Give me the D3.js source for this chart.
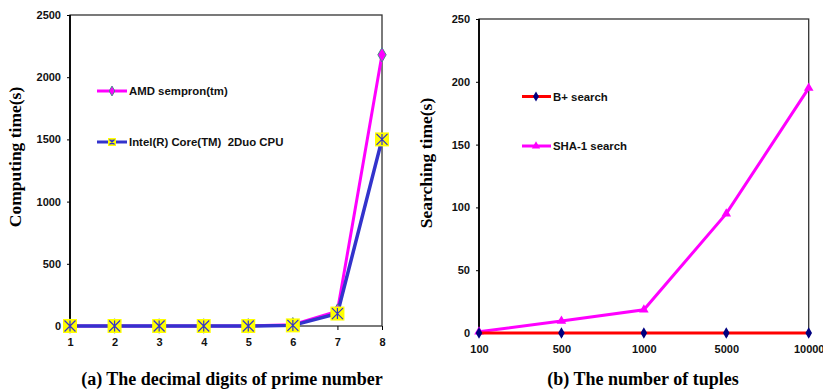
<!DOCTYPE html>
<html>
<head>
<meta charset="utf-8">
<script src="https://cdn.jsdelivr.net/npm/d3@7"></script>
<style>
  body { margin: 0; background: #fff; }
  svg { display: block; }
</style>
</head>
<body>
<svg id="chart" width="823" height="389"></svg>
<script>
// Panel (a): computing time by decimal digits of the prime
const digits = [1, 2, 3, 4, 5, 6, 7, 8];
const amdTime = [0, 0, 0, 0, 1, 10, 120, 2180];
const intelTime = [0, 0, 0, 0, 0, 5, 100, 1500];
const timeTicks = [0, 500, 1000, 1500, 2000, 2500];

// Panel (b): searching time by number of tuples
const tuples = ["100", "500", "1000", "5000", "10000"];
const bplusTime = [0, 0, 0, 0, 0];
const shaTime = [1, 9.5, 18.5, 95, 195];
const searchTicks = [0, 50, 100, 150, 200, 250];

const svg = d3.select("#chart");
const tickFont = "Arial, 'Liberation Sans', sans-serif";
const titleFont = "'Times New Roman', 'Liberation Serif', serif";

function frame(g, x0, x1, y0, y1) {
  g.append("rect").attr("x", x0).attr("y", y0)
    .attr("width", x1 - x0).attr("height", y1 - y0)
    .attr("fill", "none").attr("stroke", "#333").attr("stroke-width", 1.3);
  g.append("line").attr("x1", x0).attr("x2", x0).attr("y1", y0).attr("y2", y1)
    .attr("stroke", "#000").attr("stroke-width", 1.8);
}

function styleAxis(sel) {
  sel.selectAll("path").remove();
  sel.selectAll("line").attr("stroke", "#000").attr("stroke-width", 1);
  sel.selectAll("text").attr("font-family", tickFont).attr("font-weight", "bold")
    .attr("font-size", 11).attr("fill", "#111");
}

// ---------- Panel (a) ----------
{
  const L = 70, R = 382, T = 15, B = 326;
  const x = d3.scalePoint().domain(digits).range([L, R]);
  const y = d3.scaleLinear().domain([0, 2500]).range([B, T]);
  const g = svg.append("g");

  frame(g, L, R, T, B);

  g.append("g").attr("transform", `translate(0,${B})`)
    .call(d3.axisBottom(x).tickSize(4).tickPadding(8))
    .call(styleAxis);
  g.append("g").attr("transform", `translate(${L},0)`)
    .call(d3.axisLeft(y).tickValues(timeTicks).tickFormat(d3.format("d")).tickSize(3).tickPadding(6))
    .call(styleAxis);

  const line = d3.line().x((d, i) => x(digits[i])).y(d => y(d));

  g.append("path").datum(amdTime).attr("d", line)
    .attr("fill", "none").attr("stroke", "#ff00ff").attr("stroke-width", 3);
  g.append("path").datum(intelTime).attr("d", line)
    .attr("fill", "none").attr("stroke", "#3333cc").attr("stroke-width", 3.5);

  // diamond markers
  const diamond = d3.symbol().type(d3.symbolDiamond).size(60);
  g.selectAll(".amd").data(amdTime).join("path")
    .attr("transform", (d, i) => `translate(${x(digits[i])},${y(d)})`)
    .attr("d", diamond).attr("fill", "#ff00ff").attr("stroke", "#4a8a8a").attr("stroke-width", 1);

  // star markers on yellow squares
  function star(sel, s) {
    sel.append("rect").attr("x", -s / 2).attr("y", -s / 2).attr("width", s).attr("height", s)
      .attr("fill", "#ffff00");
    const h = s / 2 - 1.5;
    sel.append("path").attr("d", `M${-h},${-h}L${h},${h}M${-h},${h}L${h},${-h}M0,${-h}L0,${h}`)
      .attr("stroke", "#3333cc").attr("stroke-width", 1.2).attr("fill", "none");
  }
  intelTime.forEach((d, i) => {
    g.append("g").attr("transform", `translate(${x(digits[i])},${y(d)})`).call(star, 14);
  });

  // legend
  const legend = [
    { label: "AMD sempron(tm)", y: 91, color: "#ff00ff", mark: "diamond" },
    { label: "Intel(R) Core(TM)  2Duo CPU", y: 142, color: "#3333cc", mark: "star" }
  ];
  legend.forEach(l => {
    g.append("line").attr("x1", 97).attr("x2", 127).attr("y1", l.y).attr("y2", l.y)
      .attr("stroke", l.color).attr("stroke-width", 3);
    const m = g.append("g").attr("transform", `translate(112,${l.y})`);
    if (l.mark === "diamond") {
      m.append("path").attr("d", d3.symbol().type(d3.symbolDiamond).size(28))
        .attr("fill", "#ff00ff").attr("stroke", "#4a8a8a").attr("stroke-width", 1);
    } else {
      star(m, 8);
    }
    g.append("text").attr("x", 129).attr("y", l.y + 4)
      .attr("font-family", tickFont).attr("font-weight", "bold").attr("font-size", 11.4)
      .attr("fill", "#111").style("white-space", "pre").text(l.label);
  });

  g.append("text").attr("transform", `translate(21,157) rotate(-90)`)
    .attr("text-anchor", "middle").attr("font-family", titleFont).attr("font-weight", "bold")
    .attr("font-size", 17.5).attr("fill", "#000").text("Computing time(s)");
  g.append("text").attr("x", 232).attr("y", 385).attr("text-anchor", "middle")
    .attr("font-family", titleFont).attr("font-weight", "bold").attr("font-size", 18)
    .attr("fill", "#000").text("(a) The decimal digits of prime number");
}

// ---------- Panel (b) ----------
{
  const L = 479, R = 808.7, T = 19, B = 333;
  const x = d3.scalePoint().domain(tuples).range([L, R]);
  const y = d3.scaleLinear().domain([0, 250]).range([B, T]);
  const g = svg.append("g");

  frame(g, L, R, T, B);

  g.append("g").attr("transform", `translate(0,${B})`)
    .call(d3.axisBottom(x).tickSize(4).tickPadding(8))
    .call(styleAxis);
  g.append("g").attr("transform", `translate(${L},0)`)
    .call(d3.axisLeft(y).tickValues(searchTicks).tickSize(3).tickPadding(6))
    .call(styleAxis);

  const line = d3.line().x((d, i) => x(tuples[i])).y(d => y(d));

  g.append("path").datum(shaTime).attr("d", line)
    .attr("fill", "none").attr("stroke", "#ff00ff").attr("stroke-width", 3);
  g.selectAll(".sha").data(shaTime).join("path")
    .attr("transform", (d, i) => `translate(${x(tuples[i])},${y(d)})`)
    .attr("d", d3.symbol().type(d3.symbolTriangle).size(40)).attr("fill", "#ff00ff");

  g.append("path").datum(bplusTime).attr("d", line)
    .attr("fill", "none").attr("stroke", "#ff0000").attr("stroke-width", 3);
  g.selectAll(".bp").data(bplusTime).join("path")
    .attr("transform", (d, i) => `translate(${x(tuples[i])},${y(d)})`)
    .attr("d", d3.symbol().type(d3.symbolDiamond).size(38)).attr("fill", "#000080");

  const legend = [
    { label: "B+ search", y: 96.5, color: "#ff0000", mark: "diamond" },
    { label: "SHA-1 search", y: 146, color: "#ff00ff", mark: "triangle" }
  ];
  legend.forEach(l => {
    g.append("line").attr("x1", 522).attr("x2", 551).attr("y1", l.y).attr("y2", l.y)
      .attr("stroke", l.color).attr("stroke-width", 3);
    g.append("path").attr("transform", `translate(536,${l.y})`)
      .attr("d", d3.symbol().type(l.mark === "diamond" ? d3.symbolDiamond : d3.symbolTriangle).size(30))
      .attr("fill", l.mark === "diamond" ? "#000080" : "#ff00ff");
    g.append("text").attr("x", 553).attr("y", l.y + 4)
      .attr("font-family", tickFont).attr("font-weight", "bold").attr("font-size", 11.4)
      .attr("fill", "#111").text(l.label);
  });

  g.append("text").attr("transform", `translate(432,163) rotate(-90)`)
    .attr("text-anchor", "middle").attr("font-family", titleFont).attr("font-weight", "bold")
    .attr("font-size", 17.5).attr("fill", "#000").text("Searching time(s)");
  g.append("text").attr("x", 643).attr("y", 385).attr("text-anchor", "middle")
    .attr("font-family", titleFont).attr("font-weight", "bold").attr("font-size", 18)
    .attr("fill", "#000").text("(b) The number of tuples");
}
</script>
</body>
</html>
